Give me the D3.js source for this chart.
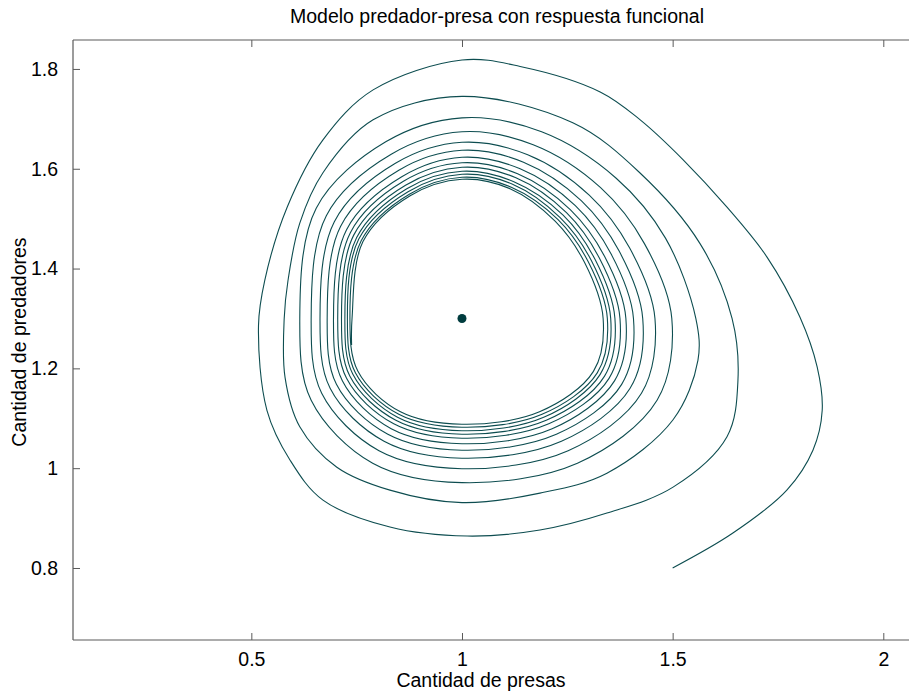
<!DOCTYPE html>
<html>
<head>
<meta charset="utf-8">
<script src="https://cdn.jsdelivr.net/npm/d3@7"></script>
<style>
  html, body { margin: 0; padding: 0; background: #fff; }
  svg text { font-family: "Liberation Sans", Arial, Helvetica, sans-serif; fill: #000; }
</style>
</head>
<body>
<div id="chart"></div>
<script>
// valores
const xTicks = [0.5, 1, 1.5, 2];
const yTicks = [0.8, 1, 1.2, 1.4, 1.6, 1.8];
const equilibrio = [1.0, 1.3];

// trayectoria (presas, predadores): arranque y dos primeras vueltas
const tramoExterior = [
  [1.500, 0.800], [1.643, 0.870], [1.771, 0.956], [1.833, 1.036], [1.855, 1.116],
  [1.843, 1.203], [1.802, 1.303], [1.724, 1.423], [1.629, 1.523], [1.525, 1.618],
  [1.423, 1.698], [1.328, 1.754], [1.138, 1.805], [1.000, 1.818], [0.789, 1.758],
  [0.670, 1.658], [0.585, 1.523], [0.532, 1.377], [0.517, 1.286], [0.537, 1.116],
  [0.592, 1.016], [0.670, 0.936], [0.829, 0.882], [1.012, 0.864], [1.185, 0.876],
  [1.344, 0.910], [1.501, 0.962], [1.629, 1.063], [1.655, 1.176], [1.641, 1.300],
  [1.565, 1.450], [1.422, 1.592], [1.263, 1.692], [1.000, 1.745], [0.789, 1.698],
  [0.670, 1.592], [0.615, 1.491], [0.587, 1.376], [0.578, 1.300], [0.580, 1.182],
  [0.615, 1.083], [0.703, 1.002], [0.829, 0.956], [1.000, 0.931], [1.185, 0.950],
  [1.344, 0.990], [1.501, 1.097], [1.560, 1.216]
];

// vueltas 3 a 7
const tramoMedio = [
  [1.555, 1.300], [1.483, 1.461], [1.366, 1.581], [1.189, 1.674], [1.000, 1.702], [0.819, 1.654], [0.654, 1.521],
  [0.615, 1.300], [0.642, 1.136], [0.788, 1.010], [1.000, 0.971], [1.274, 1.010], [1.463, 1.136],
  [1.498, 1.300], [1.433, 1.450], [1.329, 1.562], [1.169, 1.648], [1.000, 1.674], [0.832, 1.629], [0.678, 1.506],
  [0.642, 1.300], [0.667, 1.150], [0.803, 1.035], [1.000, 0.999], [1.252, 1.035], [1.426, 1.150],
  [1.458, 1.300], [1.398, 1.441], [1.302, 1.547], [1.156, 1.628], [1.000, 1.653], [0.842, 1.611], [0.697, 1.494],
  [0.663, 1.300], [0.687, 1.160], [0.815, 1.054], [1.000, 1.020], [1.236, 1.054], [1.399, 1.160],
  [1.429, 1.300], [1.373, 1.435], [1.283, 1.536], [1.146, 1.613], [1.000, 1.637], [0.850, 1.597], [0.712, 1.485],
  [0.680, 1.300], [0.702, 1.168], [0.824, 1.068], [1.000, 1.036], [1.224, 1.068], [1.379, 1.168],
  [1.407, 1.300], [1.354, 1.429], [1.269, 1.526], [1.138, 1.600], [1.000, 1.623], [0.857, 1.584], [0.726, 1.478],
  [0.695, 1.300], [0.716, 1.175], [0.832, 1.079], [1.000, 1.049], [1.214, 1.079], [1.362, 1.175]
];

// vueltas 8 a 13, cerca del ciclo limite
const tramoInterior = [
  [1.389, 1.300], [1.338, 1.425], [1.257, 1.518], [1.132, 1.590], [1.000, 1.612], [0.861, 1.575], [0.735, 1.472],
  [0.705, 1.300], [0.726, 1.180], [0.838, 1.089], [1.000, 1.060], [1.206, 1.089], [1.349, 1.180],
  [1.375, 1.300], [1.326, 1.421], [1.248, 1.512], [1.128, 1.582], [1.000, 1.603], [0.866, 1.567], [0.743, 1.467],
  [0.714, 1.300], [0.734, 1.184], [0.843, 1.096], [1.000, 1.068], [1.200, 1.096], [1.338, 1.184],
  [1.363, 1.300], [1.316, 1.418], [1.240, 1.507], [1.123, 1.574], [1.000, 1.595], [0.869, 1.560], [0.750, 1.462],
  [0.722, 1.300], [0.741, 1.188], [0.847, 1.102], [1.000, 1.075], [1.194, 1.102], [1.328, 1.188],
  [1.353, 1.300], [1.307, 1.416], [1.233, 1.502], [1.120, 1.569], [1.000, 1.589], [0.872, 1.554], [0.755, 1.459],
  [0.728, 1.300], [0.747, 1.191], [0.850, 1.108], [1.000, 1.082], [1.190, 1.108], [1.321, 1.191],
  [1.345, 1.300], [1.300, 1.413], [1.228, 1.498], [1.117, 1.563], [1.000, 1.583], [0.875, 1.549], [0.761, 1.456],
  [0.734, 1.300], [0.753, 1.194], [0.854, 1.113], [1.000, 1.088], [1.184, 1.113], [1.312, 1.194],
  [1.335, 1.300], [1.291, 1.412], [1.221, 1.495], [1.114, 1.560], [1.000, 1.579], [0.877, 1.546], [0.765, 1.454],
  [0.739, 1.300], [0.738, 1.247]
];

const width = 909;
const height = 691;
const margin = { top: 40, right: 0, bottom: 51, left: 73 };
const lineColor = "#0d4d50";
const axisColor = "#5a5a5a";
const fontSize = 19.5;

const svg = d3
  .select("#chart")
  .append("svg")
  .attr("width", width)
  .attr("height", height);

const x = d3.scaleLinear()
  .domain([0.0767, 2.061])
  .range([margin.left, width - margin.right]);

const y = d3.scaleLinear()
  .domain([0.6557, 1.858])
  .range([height - margin.bottom, margin.top]);

// ejes con marcas hacia dentro
const xAxis = svg.append("g")
  .attr("transform", `translate(0,${height - margin.bottom})`)
  .call(d3.axisBottom(x).tickValues(xTicks).tickSize(-7).tickPadding(12)
    .tickFormat(d3.format("")));

const xAxisTop = svg.append("g")
  .attr("transform", `translate(0,${margin.top})`)
  .call(d3.axisTop(x).tickValues(xTicks).tickSize(-7).tickFormat(""));

const yAxis = svg.append("g")
  .attr("transform", `translate(${margin.left},0)`)
  .call(d3.axisLeft(y).tickValues(yTicks).tickSize(-7).tickPadding(15)
    .tickFormat(d3.format("")));

[xAxis, xAxisTop, yAxis].forEach((g) => {
  g.select(".domain").remove();
  g.selectAll(".tick line").attr("stroke", axisColor).attr("stroke-width", 1);
  g.selectAll(".tick text")
    .style("font-size", fontSize + "px")
    .attr("fill", "#000");
});

// marco: izquierda, abajo, arriba
const frame = svg.append("g").attr("stroke", axisColor).attr("stroke-width", 1.2).attr("fill", "none");
frame.append("line")
  .attr("x1", margin.left).attr("x2", margin.left)
  .attr("y1", margin.top).attr("y2", height - margin.bottom);
frame.append("line")
  .attr("x1", margin.left).attr("x2", width)
  .attr("y1", height - margin.bottom).attr("y2", height - margin.bottom);
frame.append("line")
  .attr("x1", margin.left).attr("x2", width)
  .attr("y1", margin.top).attr("y2", margin.top);

// trayectoria
const trayectoria = tramoExterior.concat(tramoMedio, tramoInterior);

const line = d3.line()
  .x((d) => x(d[0]))
  .y((d) => y(d[1]))
  .curve(d3.curveCatmullRom.alpha(0.5));

svg.append("path")
  .datum(trayectoria)
  .attr("d", line)
  .attr("fill", "none")
  .attr("stroke", lineColor)
  .attr("stroke-width", 1.1);

svg.append("circle")
  .attr("cx", x(equilibrio[0]))
  .attr("cy", y(equilibrio[1]))
  .attr("r", 4.5)
  .attr("fill", "#003c3e");

// textos
svg.append("text")
  .attr("x", 497)
  .attr("y", 23)
  .attr("text-anchor", "middle")
  .style("font-size", fontSize + "px")
  .text("Modelo predador-presa con respuesta funcional");

svg.append("text")
  .attr("x", 481)
  .attr("y", 687)
  .attr("text-anchor", "middle")
  .style("font-size", fontSize + "px")
  .text("Cantidad de presas");

svg.append("text")
  .attr("transform", "translate(26,342) rotate(-90)")
  .attr("text-anchor", "middle")
  .style("font-size", fontSize + "px")
  .text("Cantidad de predadores");
</script>
</body>
</html>
